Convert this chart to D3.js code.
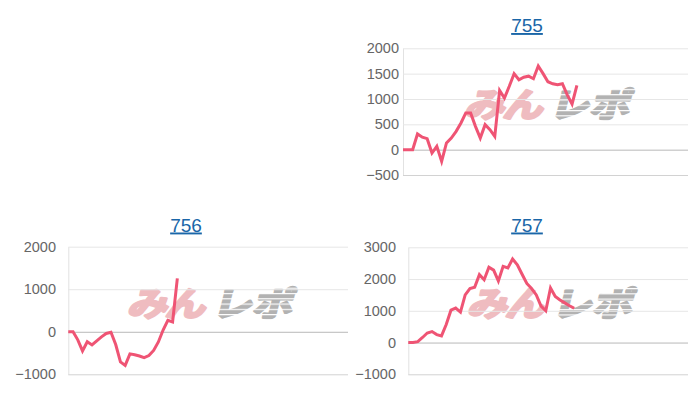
<!DOCTYPE html>
<html>
<head>
<meta charset="utf-8">
<script src="https://cdn.jsdelivr.net/npm/d3@7"></script>
<style>
  html, body { margin: 0; padding: 0; background: #fff; }
  svg { display: block; }
</style>
</head>
<body>
<div id="chart"></div>
<script>
// three small line charts (top-left slot is empty)

var titles = ["755", "756", "757"];
var slotCount = 60; // number of x categories per chart

var series755 = [0, 0, 0, 310, 245, 217, -66, 66, -230, 132, 230, 362, 527, 725, 725, 460, 230, 494, 395, 263,
  1170, 1020, 1250, 1500, 1380, 1430, 1450, 1400, 1650, 1500, 1340, 1300, 1280, 1300, 1080, 900, 1270];
var series756 = [0, 0, -190, -450, -235, -310, -212, -120, -40, -10, -300, -710, -790, -520, -540, -570, -610,
  -560, -440, -240, 40, 270, 230, 1255];
var series757 = [0, 0, 30, 160, 300, 345, 250, 210, 570, 1020, 1085, 960, 1500, 1700, 1740, 2140, 1980, 2370,
  2280, 1940, 2400, 2350, 2630, 2450, 2150, 1860, 1700, 1500, 1150, 1000, 1720, 1450, 1340, 1250, 1160, 1080];

var ticks755 = [-500, 0, 500, 1000, 1500, 2000];
var ticks756 = [-1000, 0, 1000, 2000];
var ticks757 = [-1000, 0, 1000, 2000, 3000];

var watermarkLeft = "みん";
var watermarkRight = "レポ";

var panels = [
  {title: titles[0], values: series755, ticks: ticks755, left: 403, right: 688, top: 48.3, bottom: 175, titleX: 527, titleY: 32, labelX: 399},
  {title: titles[1], values: series756, ticks: ticks756, left: 68.3, right: 348, top: 246.7, bottom: 374.3, titleX: 186, titleY: 231.5, labelX: 56},
  {title: titles[2], values: series757, ticks: ticks757, left: 408.3, right: 688, top: 247.3, bottom: 374.3, titleX: 527, titleY: 231.5, labelX: 396}
];

var svg = d3.select("#chart")
  .append("svg")
    .attr("width", 700)
    .attr("height", 400);

// striped fill for the grey half of the logo
var defs = svg.append("defs");
var pat = defs.append("pattern")
    .attr("id", "stripes")
    .attr("patternUnits", "userSpaceOnUse")
    .attr("width", 8)
    .attr("height", 6);
pat.append("rect").attr("width", 8).attr("height", 6).attr("fill", "#b2b2b2");
pat.append("rect").attr("y", 4).attr("width", 8).attr("height", 1.3).attr("fill", "#fff");

panels.forEach(function(p) {
  var x = d3.scaleLinear()
    .domain([0, slotCount - 1])
    .range([p.left, p.right]);

  var y = d3.scaleLinear()
    .domain(d3.extent(p.ticks))
    .range([p.bottom, p.top]);

  var g = svg.append("g");

  // watermark logo behind the data
  var cx = (p.left + p.right) / 2 - 2,
      cy = p.top + 0.44 * (p.bottom - p.top);
  var wm = g.append("g")
    .attr("transform", "translate(" + cx + "," + (cy + 13) + ") skewX(-14) scale(1.06,0.88)");
  wm.append("text")
    .attr("x", -3)
    .attr("text-anchor", "end")
    .style("font-family", "'Noto Sans CJK JP', sans-serif")
    .style("font-weight", 700)
    .style("font-size", "38px")
    .style("letter-spacing", "-2px")
    .style("fill", "#efbcc0")
    .style("stroke", "#efbcc0")
    .style("stroke-width", 3)
    .style("stroke-linejoin", "round")
    .text(watermarkLeft);
  wm.append("text")
    .attr("x", 5)
    .attr("text-anchor", "start")
    .style("font-family", "'Noto Sans CJK JP', sans-serif")
    .style("font-weight", 700)
    .style("font-size", "38px")
    .style("letter-spacing", "0px")
    .style("fill", "url(#stripes)")
    .style("stroke", "url(#stripes)")
    .style("stroke-width", 3)
    .style("stroke-linejoin", "round")
    .text(watermarkRight);

  // y axis with gridlines
  var axis = g.append("g")
    .attr("transform", "translate(" + p.left + ",0)")
    .call(d3.axisLeft(y)
      .tickValues(p.ticks)
      .tickFormat(d3.format("d"))
      .tickSize(-(p.right - p.left))
      .tickSizeOuter(0)
      .tickPadding(p.left - p.labelX));

  axis.select(".domain").attr("stroke", "#e2e2e2");
  axis.selectAll(".tick line")
    .attr("stroke", function(d) {
      if (d === 0) return "#b8b8b8";
      if (d === p.ticks[0]) return "#d2d2d2";
      return "#e6e6e6";
    });
  axis.selectAll(".tick text")
    .style("font-family", "'Liberation Sans', Arial, sans-serif")
    .style("font-size", "14.5px")
    .attr("fill", "#666");

  // the series line
  g.append("path")
    .datum(p.values)
    .attr("fill", "none")
    .attr("stroke", "#ef5474")
    .attr("stroke-width", 3)
    .attr("stroke-linejoin", "miter")
    .attr("d", d3.line()
      .x(function(d, i) { return x(i); })
      .y(function(d) { return y(d); }));

  // linked title
  g.append("text")
    .attr("x", p.titleX)
    .attr("y", p.titleY)
    .attr("text-anchor", "middle")
    .style("font-family", "'Liberation Sans', Arial, sans-serif")
    .style("font-size", "19px")
    .style("text-decoration", "underline")
    .style("fill", "#1a66a8")
    .text(p.title);
});
</script>
</body>
</html>
